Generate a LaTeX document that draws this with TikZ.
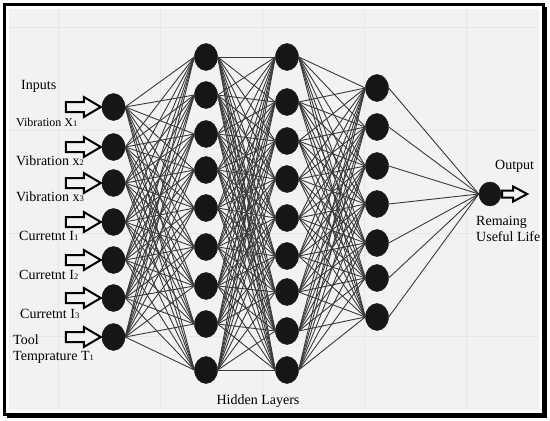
\documentclass[tikz,border=0pt]{standalone}
\usepackage{fontspec}
\setmainfont{Liberation Serif}
\usetikzlibrary{shapes.geometric,calc}
\definecolor{bgc}{HTML}{F2F2F2}
\definecolor{gridc}{HTML}{E7E7E7}
\definecolor{edgec}{HTML}{3A3A3A}
\definecolor{neur}{HTML}{161616}
\newcommand{\lsub}[1]{{\fontsize{8.5}{9}\selectfont #1}}
\begin{document}
\begin{tikzpicture}[x=1pt,y=-1pt,
  neuron/.style={ellipse,fill=neur,draw=neur,minimum width=23pt,minimum height=27pt,inner sep=0pt},
  link/.style={draw=edgec,line width=0.9pt},
  lbl/.style={anchor=west,inner sep=0pt,font=\fontsize{14}{16}\selectfont},
  hollow/.style={draw=black,line width=2pt,fill=bgc,line join=miter}]
\useasboundingbox (0,0) rectangle (550,421);
\fill[white] (0,0) rectangle (550,421);
\fill[bgc] (9,9) rectangle (539,410);
\foreach \x in {58,160,262,364,466} \draw[gridc,line width=0.5pt] (\x,9) -- (\x,410);
\foreach \y in {27,130,233,336} \draw[gridc,line width=0.5pt] (9,\y) -- (539,\y);
\draw[line width=3pt] (4.5,4.5) rectangle (543.5,414.5);
\fill (543,7) rectangle (547,418);
\fill (7,414) rectangle (547,418);
% neurons
\foreach \y [count=\i] in {107,147,183,222,260,298,337} \node[neuron] (i\i) at (113.5,\y) {};
\foreach \y [count=\i] in {57,95,134,170,208,247,286,324,370} \node[neuron] (a\i) at (206,\y) {};
\foreach \y [count=\i] in {57,102,141,179,218,256,292,331,370} \node[neuron] (b\i) at (287,\y) {};
\foreach \y [count=\i] in {88,127,166,204,243,278,317} \node[neuron] (c\i) at (377,\y) {};
\node[neuron,minimum width=22pt,minimum height=24pt] (o) at (490,194) {};
% links
\foreach \p in {1,...,7} \foreach \q in {1,...,9} \draw[link] (i\p.east) -- (a\q.west);
\foreach \p in {1,...,9} \foreach \q in {1,...,9} \draw[link] (a\p.east) -- (b\q.west);
\foreach \p in {1,...,9} \foreach \q in {1,...,7} \draw[link] (b\p.east) -- (c\q.west);
\foreach \p in {1,...,7} \draw[link] (c\p.east) -- (o.west);
% input arrows
\foreach \i in {1,...,7}
  \draw[hollow] ($(i\i.west)+(-1,0)$) -- ++(-17,-10) -- ++(0,5) -- ++(-18,0) -- ++(0,10) -- ++(18,0) -- ++(0,5) -- cycle;
% output arrow
\draw[hollow] ($(o.east)+(1,0)$) -- ++(0,-3.5) -- ++(11,0) -- ++(0,-4) -- ++(14,7.5) -- ++(-14,7.5) -- ++(0,-4) -- ++(-11,0) -- cycle;
% labels
\node[lbl] (tin) at (21,86) {Inputs};
\node[lbl,font=\fontsize{12}{14}\selectfont] (tv1) at (16,122) {Vibration X\lsub{1}};
\node[lbl] (tv2) at (16,161) {Vibration x\lsub{2}};
\node[lbl] (tv3) at (16,197) {Vibration x\lsub{3}};
\node[lbl] (tc1) at (19,236) {Curretnt I\lsub{1}};
\node[lbl] (tc2) at (19,275) {Curretnt I\lsub{2}};
\node[lbl] (tc3) at (20,314) {Curretnt I\lsub{3}};
\node[lbl] (tt1) at (13,340) {Tool};
\node[lbl] (tt2) at (13,357) {Temprature T\lsub{1}};
\node[lbl] (tout) at (495,166) {Output};
\node[lbl,align=left] (trul) at (476,229) {Remaing\\Useful Life};
\node[inner sep=0pt,font=\fontsize{14}{16}\selectfont] (thl) at (258,401) {Hidden Layers};
\end{tikzpicture}
\end{document}
